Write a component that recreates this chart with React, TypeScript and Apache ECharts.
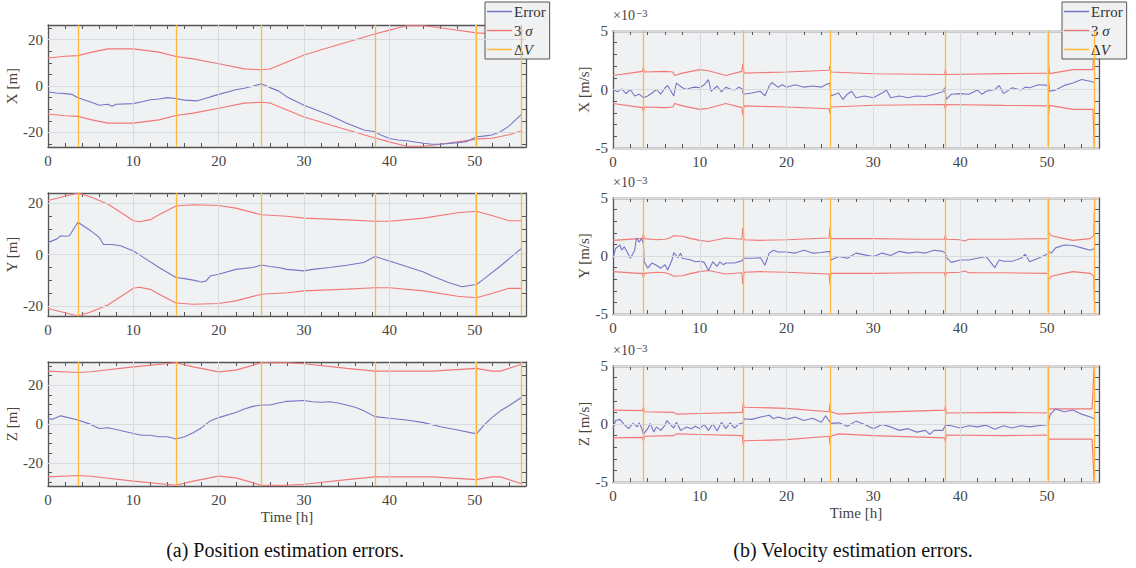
import React, { useEffect, useRef } from "react";
import * as echarts from "echarts";

const FONT = "Liberation Serif";
const C_ERR = "#7676c8";
const C_SIG = "#f27777";
const C_DV = "#ffb83a";
const C_AXIS = "#555555";
const C_GRIDLINE = "#d9dadd";
const C_BG = "#f0f1f3";

// Time axis
const timeLabels = [0, 10, 20, 30, 40, 50];
const timeTicks = [0, 2, 4, 6, 8, 10, 12, 14, 16, 18, 20, 22, 24, 26, 28, 30, 32, 34, 36, 38, 40, 42, 44, 46, 48, 50, 52, 54];
const dvTimes = [3.5, 15, 25, 38.3, 50.2, 55.5];

// Position (m)
const posLabels = [-20, 0, 20];
const posXTicks = [-25, -20, -15, -10, -5, 0, 5, 10, 15, 20, 25];
const posZTicks = [-30, -25, -20, -15, -10, -5, 0, 5, 10, 15, 20, 25, 30];

const posXErr = [[0, -2.6], [1, -3], [2, -3.3], [2.8, -3.6], [3.5, -5.1], [5, -6.9], [6, -8.3], [7, -7.9], [7.5, -8.7], [8, -7.9], [10, -7.6], [11, -6.8], [12, -5.9], [13, -5.6], [14, -5], [15, -5.4], [16, -6.1], [17.5, -6.4], [19, -4.7], [20, -3.6], [22, -1.6], [23, -1], [24, -0.1], [25, 1], [26, -0.7], [27, -2.1], [28, -4.7], [30, -8.3], [31, -9.7], [33, -12.6], [35, -16.1], [37, -19], [38.3, -19.7], [39, -21.1], [40, -22.6], [41, -23.3], [42, -23.6], [44, -24.7], [45, -25.1], [46, -25.1], [48, -24.4], [49, -24], [50.2, -21.9], [51, -21.6], [52, -21.1], [53, -19.7], [54, -17.3], [55.5, -12.1]];
const posXSig = [[0, 12.1], [2, 12.8], [3.5, 13.1], [5, 14.5], [7, 16], [10, 16], [13, 14.6], [15, 12.7], [17, 11.7], [20, 9.6], [23, 7.4], [25, 7], [26, 7.3], [28, 10.3], [30, 13.4], [33, 16.7], [36, 19.9], [38.3, 22.4], [40, 24.1], [42, 26], [44, 26], [47, 24.6], [50.2, 22.9], [52, 22.5], [54, 21], [55.5, 19.3]];

const posYErr = [[0, 4.7], [1, 6], [1.5, 7.3], [2, 7.1], [2.5, 7.3], [3.5, 12.6], [5, 9.3], [6, 6.7], [6.5, 3.9], [7.5, 3.9], [8.5, 3.4], [10, 1.4], [11.5, -1.8], [13, -5.1], [15, -9], [16, -9.4], [17, -10], [18, -10.7], [18.5, -10.4], [19, -8.4], [20, -7.7], [22, -5.8], [24, -5.1], [25, -4.1], [26, -4.7], [27, -5.1], [28, -5.8], [30, -6.4], [31, -5.8], [33, -5.1], [35, -4.2], [37, -3.1], [38.3, -0.8], [40, -2.5], [42, -4.7], [44, -6.8], [45, -8.4], [47, -11], [48.5, -12.6], [50.2, -11.7], [51, -9.7], [53, -4.5], [55.5, 2.5]];
const posYSig = [[0, 21.1], [3.5, 24], [5, 22.4], [7, 19.7], [9, 15.4], [10, 13.2], [10.7, 12.8], [12, 13.6], [13, 15.5], [15, 18.9], [17, 19.4], [20, 19.1], [22, 18.1], [25, 15.5], [28, 14.9], [30, 14.2], [35, 13.5], [38.3, 13], [40, 13], [44, 14.2], [48, 16.3], [50.2, 16.9], [52, 15.2], [54, 13.2], [55.5, 13.2]];

const posZErr = [[0, 2.8], [0.5, 2.4], [1.5, 4.2], [3.5, 2.1], [5, -0.2], [6, -2.3], [7, -1.9], [8, -2.8], [10, -4.9], [11, -5.8], [12, -5.8], [13, -6.6], [14, -6.6], [15, -7.7], [16, -6.6], [17, -4.5], [18, -1.9], [19, 1.6], [20, 3.3], [22, 5.9], [23, 7.7], [24, 9.1], [25, 9.8], [26, 9.8], [27, 10.8], [28, 11.7], [30, 12.1], [31, 11.5], [32, 11.2], [33, 11.5], [34, 10.8], [36, 8.6], [37, 6.8], [38.3, 3.8], [40, 3], [42, 2.1], [44, 0.7], [46, -1.4], [48, -3.1], [50.2, -5.1], [51, -1], [52, 3.3], [53, 6.8], [54, 9.4], [55.5, 13.8]];
const posZSig = [[0, 27.3], [3.5, 26.6], [5, 27], [10, 29.5], [15, 31.6], [17, 29.5], [20, 26.9], [22, 27.8], [25, 31.6], [28, 31.6], [30, 31.1], [35, 28.7], [38.3, 27.3], [45, 27.3], [50.2, 28.7], [52, 27.3], [53, 27.3], [55.5, 30.8]];

// Velocity (x 1e-3 m/s)
const velLabels = [-5, 0, 5];
const velTicks = [-5, -4, -3, -2, -1, 0, 1, 2, 3, 4, 5];

const velXErr = [[0, 0.05], [0.5, -0.2], [1, 0.05], [1.5, -0.35], [2, 0], [2.5, -0.55], [3, -0.4], [3.5, -0.7], [4, -0.55], [4.5, -0.3], [5, 0], [5.5, -0.4], [6, 0.15], [6.3, 0.35], [7, -0.55], [7.3, 0.55], [8, 0.15], [8.5, 0], [9, 0.15], [9.5, 0.2], [10, 0.15], [10.5, 0.4], [11, 0.85], [11.3, -0.15], [12, 0.3], [12.5, -0.2], [13, 0.2], [13.5, 0.05], [14, -0.05], [14.5, 0.2], [14.9, 0.05], [15, -0.4], [16, -0.3], [17, -0.15], [17.5, -0.55], [18, 0.3], [18.3, 0.6], [19, 0.2], [19.5, 0.4], [20, 0.2], [21, 0.4], [22, 0.2], [23, 0.3], [24, 0.2], [24.5, 0.4], [25, 0.55], [25.1, -0.55], [26, -0.3], [26.5, -0.85], [27, -0.4], [27.5, -0.15], [28, -0.7], [29, -0.55], [30, -0.7], [31, -0.3], [31.5, -0.05], [32, -0.7], [33, -0.55], [34, -0.7], [35, -0.55], [36, -0.6], [37, -0.4], [38, -0.2], [38.2, 0.15], [38.4, -0.85], [39, -0.4], [40, -0.35], [41, -0.4], [42, -0.05], [42.5, -0.4], [43, -0.15], [44, 0], [44.5, 0.35], [45, -0.35], [46, 0.15], [47, -0.05], [47.5, 0.2], [48, 0.15], [49, 0.4], [50, 0.35], [50.2, 0.6], [50.3, -0.15], [51, -0.05], [52, 0.35], [53, 0.55], [54, 0.85], [55, 0.7], [55.5, 0.6]];
const velXSig = [[0, 1.2], [3.4, 1.55], [3.5, 1.9], [3.6, 1.5], [6, 1.55], [6.9, 1.5], [7.1, 1.2], [8, 1.4], [10, 1.7], [11, 1.6], [13, 1.2], [14.85, 1.55], [14.95, 2.2], [15.1, 1.4], [20, 1.5], [24.9, 1.65], [25, 2.05], [25.1, 1.5], [30, 1.35], [38.2, 1.28], [38.3, 1.7], [38.4, 1.28], [45, 1.36], [50.1, 1.4], [50.2, 2.1], [50.3, 1.36], [53, 1.7], [55.3, 1.7], [55.5, 6]];

const velYErr = [[0, -0.2], [0.3, 0.65], [0.8, 0.95], [1, 0.5], [1.3, 0.8], [1.8, 0.1], [2, -0.2], [2.5, 0.5], [2.7, 1.55], [3, 1.2], [3.3, 1.5], [3.5, 1.05], [3.6, -0.5], [4, -1.05], [4.5, -0.6], [5, -0.8], [5.5, -1.05], [6, -0.75], [6.3, -1.2], [6.8, -0.35], [7, 0.3], [7.5, -0.15], [7.8, 0.25], [8, -0.2], [9, -0.35], [9.5, -0.5], [10, -0.45], [10.5, -0.55], [11, -1.25], [11.5, -0.5], [12, -0.9], [12.3, -0.5], [12.7, -0.75], [13, -0.6], [14, -0.6], [14.9, -0.4], [15, -0.2], [16, -0.2], [17, -0.15], [17.5, -0.8], [18, 0.25], [18.5, 0.5], [19, 0.35], [20, 0.35], [21, 0.25], [22, 0.5], [23, 0.25], [24, 0.3], [25, 0.4], [25.1, -0.35], [26, -0.05], [27, -0.2], [28, 0.25], [29, 0.1], [30, -0.05], [31, 0.25], [32, 0.05], [33, 0.4], [34, 0.25], [35, 0.35], [36, 0.25], [37, 0.5], [38, 0.4], [38.3, 0.25], [38.5, -0.2], [39, -0.55], [40, -0.35], [41, -0.35], [42, -0.2], [43, -0.05], [44, -1], [44.5, -0.35], [45, -0.45], [46, -0.45], [47, -0.2], [47.5, 0.15], [48, -0.5], [49, -0.2], [50, 0.15], [50.2, 0.4], [50.5, 0.25], [51, 0.7], [52, 0.95], [53, 0.9], [54, 0.7], [55, 0.5], [55.5, 0.65]];
const velYSig = [[0, 1.35], [3, 1.5], [3.4, 1.5], [3.5, 1.9], [3.6, 1.5], [5, 1.4], [6, 1.45], [6.5, 1.55], [7, 1.75], [8, 1.7], [9, 1.5], [10, 1.35], [11, 1.25], [12, 1.4], [13, 1.55], [14.85, 1.45], [14.95, 2.4], [15.1, 1.4], [17, 1.35], [20, 1.4], [24.9, 1.55], [25, 2.4], [25.1, 1.5], [30, 1.5], [35, 1.45], [38.2, 1.45], [38.3, 1.8], [38.4, 1.45], [40, 1.4], [40.5, 1.3], [41, 1.45], [45, 1.45], [50.1, 1.5], [50.2, 2.05], [50.5, 1.75], [52, 1.5], [53, 1.35], [55, 1.5], [55.4, 1.75], [55.5, 4.6]];

const velZErr = [[0, -0.4], [0.3, 0.3], [0.8, 0.4], [1.3, -0.05], [1.8, -0.4], [2.3, 0.05], [2.8, -0.25], [3, 0.1], [3.3, -0.35], [3.5, -0.9], [4, -0.4], [4.3, 0.05], [4.7, -0.7], [5, -0.25], [5.5, -0.55], [6, -0.1], [6.2, 0.3], [7, -0.35], [7.3, 0.15], [7.8, -0.55], [8.5, -0.25], [9, -0.4], [9.5, -0.2], [10, -0.4], [10.5, -0.05], [11, -0.55], [11.5, 0], [12, -0.6], [12.5, 0.15], [13, -0.4], [13.5, 0.1], [14, -0.35], [14.5, 0], [15, 0.1], [15.1, 0.45], [16, 0.4], [17, 0.6], [18, 0.75], [18.5, 0.45], [19, 0.6], [20, 0.4], [21, 0.6], [22, 0.3], [23, 0.5], [24, 0.15], [24.5, 0.7], [25, 0.15], [25.1, 0.05], [26, 0.1], [27, -0.2], [28, 0.25], [29, -0.05], [30, -0.4], [31, -0.05], [32, -0.25], [33, -0.55], [34, -0.4], [35, -0.7], [36, -0.55], [36.5, -0.9], [37, -0.55], [38, -0.55], [38.3, -0.1], [39, -0.15], [40, -0.35], [41, -0.15], [42, -0.25], [43, -0.1], [44, -0.45], [45, -0.15], [46, -0.35], [47, -0.15], [48, -0.25], [49, -0.15], [50, -0.05], [50.2, 0.3], [50.4, 0.85], [51, 1.3], [52, 1.05], [53, 1.2], [54, 0.85], [55, 0.6], [55.5, 0.45]];
const velZSig = [[0, 1.2], [3.4, 1.15], [3.5, 1.5], [3.6, 1.05], [7, 1.0], [7.3, 0.85], [10, 0.9], [14.9, 1.0], [15, 1.85], [15.1, 1.45], [20, 1.35], [24.9, 1.05], [25, 1.7], [25.1, 1.05], [26, 0.85], [30, 1.0], [38.2, 1.2], [38.3, 1.55], [38.4, 0.95], [45, 1.0], [50.1, 0.95], [50.2, 1.3], [52, 1.3], [55.2, 1.3], [55.5, 6]];

type Panel = {
  grid: { left: number; top: number; width: number; height: number };
  err: number[][];
  sig: number[][];
  yMin: number;
  yMax: number;
  yLabels: number[];
  yTicks: number[];
  yName: string;
  nameGap: number;
  bottom: boolean;
  exp: boolean;
};

const panels: Panel[] = [
  { grid: { left: 48, top: 25, width: 478, height: 122 }, err: posXErr, sig: posXSig, yMin: -26.3, yMax: 26.3, yLabels: posLabels, yTicks: posXTicks, yName: "X [m]", nameGap: 28, bottom: false, exp: false },
  { grid: { left: 48, top: 193, width: 478, height: 123 }, err: posYErr, sig: posYSig, yMin: -24, yMax: 24, yLabels: posLabels, yTicks: posXTicks, yName: "Y [m]", nameGap: 28, bottom: false, exp: false },
  { grid: { left: 48, top: 362, width: 478, height: 124 }, err: posZErr, sig: posZSig, yMin: -32, yMax: 32, yLabels: posLabels, yTicks: posZTicks, yName: "Z [m]", nameGap: 28, bottom: true, exp: false },
  { grid: { left: 613, top: 31, width: 486, height: 117 }, err: velXErr, sig: velXSig, yMin: -5, yMax: 5, yLabels: velLabels, yTicks: velTicks, yName: "X [m/s]", nameGap: 22, bottom: false, exp: true },
  { grid: { left: 613, top: 198, width: 486, height: 116 }, err: velYErr, sig: velYSig, yMin: -5, yMax: 5, yLabels: velLabels, yTicks: velTicks, yName: "Y [m/s]", nameGap: 22, bottom: false, exp: true },
  { grid: { left: 613, top: 366, width: 486, height: 116 }, err: velZErr, sig: velZSig, yMin: -5, yMax: 5, yLabels: velLabels, yTicks: velTicks, yName: "Z [m/s]", nameGap: 22, bottom: true, exp: true },
];

function buildOption() {
  const grids: any[] = [];
  const xAxes: any[] = [];
  const yAxes: any[] = [];
  const series: any[] = [];
  const titles: any[] = [];
  const axisLine = { show: true, onZero: false, lineStyle: { color: C_AXIS, width: 1.3 } };
  const tickStyle = { color: C_AXIS, width: 1 };
  const labelStyle = { color: "#444", fontFamily: FONT, fontSize: 15 };

  panels.forEach((p, i) => {
    grids.push({ ...p.grid, show: true, backgroundColor: C_BG, borderWidth: 0, containLabel: false });
    const xb = xAxes.length;
    xAxes.push({
      type: "value", gridIndex: i, min: 0, max: 56, position: "bottom",
      axisLine,
      axisTick: { show: true, inside: true, length: 4, customValues: timeTicks, lineStyle: tickStyle },
      axisLabel: { show: true, customValues: timeLabels, margin: 6, ...labelStyle },
      splitLine: { show: false },
      name: p.bottom ? "Time [h]" : "", nameLocation: "middle", nameGap: 23,
      nameTextStyle: { ...labelStyle, color: "#444" },
    });
    xAxes.push({
      type: "value", gridIndex: i, min: 0, max: 56, position: "top",
      axisLine,
      axisTick: { show: true, inside: true, length: 4, customValues: timeTicks, lineStyle: tickStyle },
      axisLabel: { show: false },
      splitLine: { show: false },
    });
    const yb = yAxes.length;
    yAxes.push({
      type: "value", gridIndex: i, min: p.yMin, max: p.yMax, position: "left",
      axisLine,
      axisTick: { show: true, inside: true, length: 4, customValues: p.yTicks, lineStyle: tickStyle },
      axisLabel: { show: true, customValues: p.yLabels, margin: 5, ...labelStyle },
      splitLine: { show: false },
      name: p.yName, nameLocation: "middle", nameRotate: 90, nameGap: p.nameGap,
      nameTextStyle: { ...labelStyle, color: "#444" },
    });
    yAxes.push({
      type: "value", gridIndex: i, min: p.yMin, max: p.yMax, position: "right",
      axisLine,
      axisTick: { show: true, inside: true, length: 4, customValues: p.yTicks, lineStyle: tickStyle },
      axisLabel: { show: false },
      splitLine: { show: false },
    });

    // grid lines
    series.push({
      type: "line", xAxisIndex: xb, yAxisIndex: yb, data: [], silent: true, z: 1,
      markLine: {
        silent: true, symbol: "none", label: { show: false }, animation: false,
        lineStyle: { color: C_GRIDLINE, width: 1, type: "solid" },
        data: [
          ...timeLabels.filter((v) => v > 0).map((v) => ({ xAxis: v })),
          ...p.yLabels.map((v) => ({ yAxis: v })),
        ],
      },
    });
    // Delta V
    series.push({
      name: "ΔV", type: "line", xAxisIndex: xb, yAxisIndex: yb, data: [], z: 2,
      itemStyle: { color: C_DV }, lineStyle: { color: C_DV },
      markLine: {
        silent: true, symbol: "none", label: { show: false }, animation: false,
        lineStyle: { color: C_DV, width: 1.3, type: "solid" },
        data: dvTimes.map((t) => ({ xAxis: t })),
      },
    });
    const lineCommon = { type: "line", xAxisIndex: xb, yAxisIndex: yb, showSymbol: false, symbol: "none", clip: true, silent: true };
    series.push({ ...lineCommon, name: "3σ", data: p.sig, z: 3, itemStyle: { color: C_SIG }, lineStyle: { color: C_SIG, width: 1.1 } });
    series.push({ ...lineCommon, name: "3σ", data: p.sig.map(([t, v]) => [t, -v]), z: 3, itemStyle: { color: C_SIG }, lineStyle: { color: C_SIG, width: 1.1 } });
    series.push({ ...lineCommon, name: "Error", data: p.err, z: 4, itemStyle: { color: C_ERR }, lineStyle: { color: C_ERR, width: 1.1 } });

    if (p.exp) {
      titles.push({
        text: "×10{sup|−3}", left: p.grid.left, top: p.grid.top - 24, padding: 0,
        textStyle: {
          fontFamily: FONT, fontSize: 14, fontWeight: "normal", color: "#444",
          rich: { sup: { fontFamily: FONT, fontSize: 11, color: "#444", verticalAlign: "top", padding: [0, 0, 6, 1] } },
        },
      });
    }
  });

  const captionStyle = { fontFamily: FONT, fontSize: 20, fontWeight: "normal", color: "#111" };
  titles.push({ text: "(a) Position estimation errors.", left: 285, top: 540, textAlign: "center", padding: 0, textStyle: captionStyle });
  titles.push({ text: "(b) Velocity estimation errors.", left: 853, top: 540, textAlign: "center", padding: 0, textStyle: captionStyle });

  const legendCommon = {
    orient: "vertical",
    data: ["Error", "3σ", "ΔV"],
    icon: "rect",
    itemWidth: 25,
    itemHeight: 1.5,
    itemGap: 4,
    padding: [2, 4, 2, 2],
    backgroundColor: C_BG,
    borderColor: C_AXIS,
    borderWidth: 1,
    selectedMode: false,
    formatter: (n: string) => (n === "3σ" ? "3 {i|σ}" : n === "ΔV" ? "Δ{i|V}" : n),
    textStyle: {
      fontFamily: FONT, fontSize: 15, color: "#333", padding: [0, 0, 0, -3],
      rich: { i: { fontFamily: FONT, fontSize: 15, fontStyle: "italic", color: "#333" } },
    },
  };

  return {
    animation: false,
    title: titles,
    grid: grids,
    xAxis: xAxes,
    yAxis: yAxes,
    series,
    legend: [
      { ...legendCommon, left: 485, top: 2 },
      { ...legendCommon, left: 1062, top: 2 },
    ],
  };
}

export default function App() {
  const ref = useRef<HTMLDivElement>(null);
  useEffect(() => {
    if (!ref.current) return;
    const chart = echarts.init(ref.current, null, { renderer: "svg" });
    chart.setOption(buildOption() as any);
    return () => chart.dispose();
  }, []);
  return (
    <div
      ref={ref}
      style={{ position: "absolute", left: 0, top: 0, width: 1136, height: 568, background: "#fff" }}
    />
  );
}
